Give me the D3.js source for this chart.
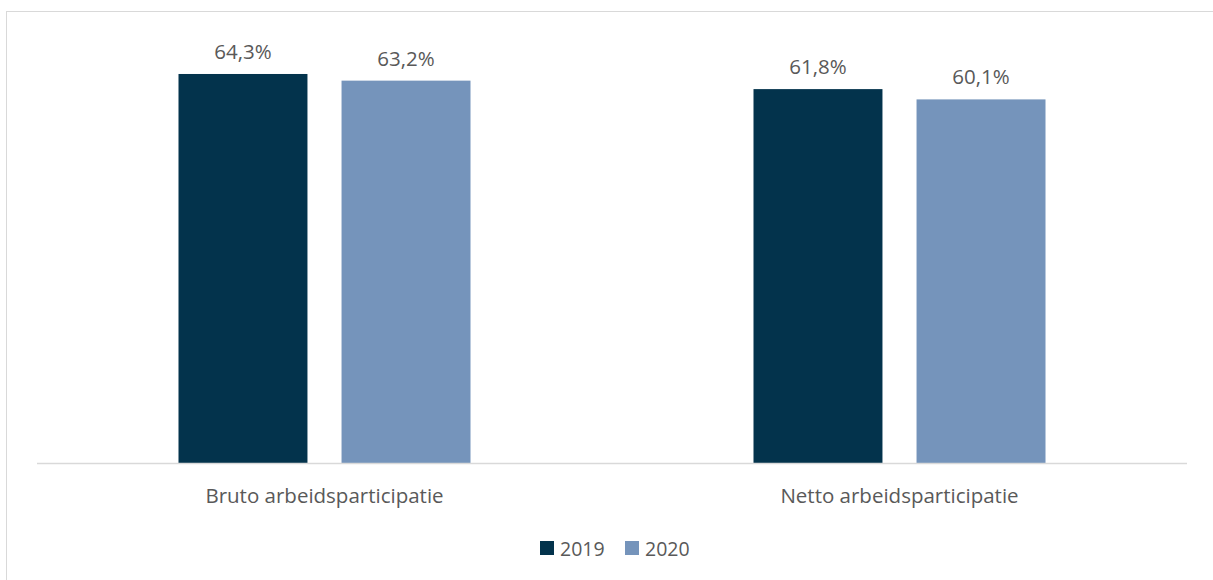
<!DOCTYPE html>
<html>
<head>
<meta charset="utf-8">
<script src="https://cdn.jsdelivr.net/npm/d3@7"></script>
<style>
  body { margin: 0; background: #fff; }
  text { font-family: "Open Sans", "Noto Sans", sans-serif; fill: #595959; }
</style>
</head>
<body>
<div id="chart"></div>
<script>
// data
const categories = ['Bruto arbeidsparticipatie', 'Netto arbeidsparticipatie'];
const years = ['2019', '2020'];
const values2019 = [64.3, 61.8];
const values2020 = [63.2, 60.1];
const colors = ['#03334c', '#7594bb'];

const W = 1213, H = 580;
const margin = {l: 37, r: 26, t: 40, b: 117};

const svg = d3.select('#chart').append('svg')
	.attr('width', W)
	.attr('height', H);

// chart border (only top and left visible in frame)
svg.append('rect')
	.attr('x', 6.5).attr('y', 11.5)
	.attr('width', W + 10).attr('height', H + 10)
	.attr('fill', 'none')
	.attr('stroke', '#d9d9d9');

const x0 = d3.scaleBand()
	.domain(categories)
	.range([margin.l, W - margin.r]);

const x1 = d3.scaleBand()
	.domain(years)
	.range([0, 292])
	.paddingInner(0.209);

const y = d3.scaleLinear()
	.domain([0, 70])
	.range([H - margin.b, H - margin.b - 423.5]);

const rows = categories.map((c, i) => ({
	cat: c,
	vals: [{year: '2019', v: values2019[i]}, {year: '2020', v: values2020[i]}]
}));

const groups = svg.selectAll('.grp')
	.data(rows)
	.enter().append('g')
	.attr('class', 'grp')
	.attr('transform', d => `translate(${x0(d.cat) + x0.bandwidth()/2 - 146},0)`);

groups.selectAll('rect')
	.data(d => d.vals)
	.enter().append('rect')
	.attr('x', d => x1(d.year))
	.attr('y', d => y(d.v))
	.attr('width', x1.bandwidth())
	.attr('height', d => y(0) - y(d.v))
	.attr('fill', (d, i) => colors[i]);

groups.selectAll('.lbl')
	.data(d => d.vals)
	.enter().append('text')
	.attr('class', 'lbl')
	.attr('x', d => x1(d.year) + x1.bandwidth()/2)
	.attr('y', d => y(d.v) - 15)
	.attr('text-anchor', 'middle')
	.style('font-size', '20.5px')
	.text(d => d.v.toFixed(1).replace('.', ',') + '%');

// baseline
svg.append('line')
	.attr('x1', margin.l).attr('x2', W - margin.r)
	.attr('y1', y(0) + 0.5).attr('y2', y(0) + 0.5)
	.attr('stroke', '#d9d9d9')
	.attr('stroke-width', 1.5);

// category labels
svg.selectAll('.cat')
	.data(categories)
	.enter().append('text')
	.attr('class', 'cat')
	.attr('x', d => x0(d) + x0.bandwidth()/2)
	.attr('y', y(0) + 40)
	.attr('text-anchor', 'middle')
	.style('font-size', '20.5px')
	.text(d => d);

// legend
const legend = svg.append('g').attr('transform', 'translate(540,541)');
const items = legend.selectAll('g')
	.data(years)
	.enter().append('g')
	.attr('transform', (d, i) => `translate(${i * 85},0)`);
items.append('rect')
	.attr('width', 14).attr('height', 14)
	.attr('fill', (d, i) => colors[i]);
items.append('text')
	.attr('x', 20).attr('y', 15)
	.style('font-size', '19.5px')
	.text(d => d);
</script>
</body>
</html>
